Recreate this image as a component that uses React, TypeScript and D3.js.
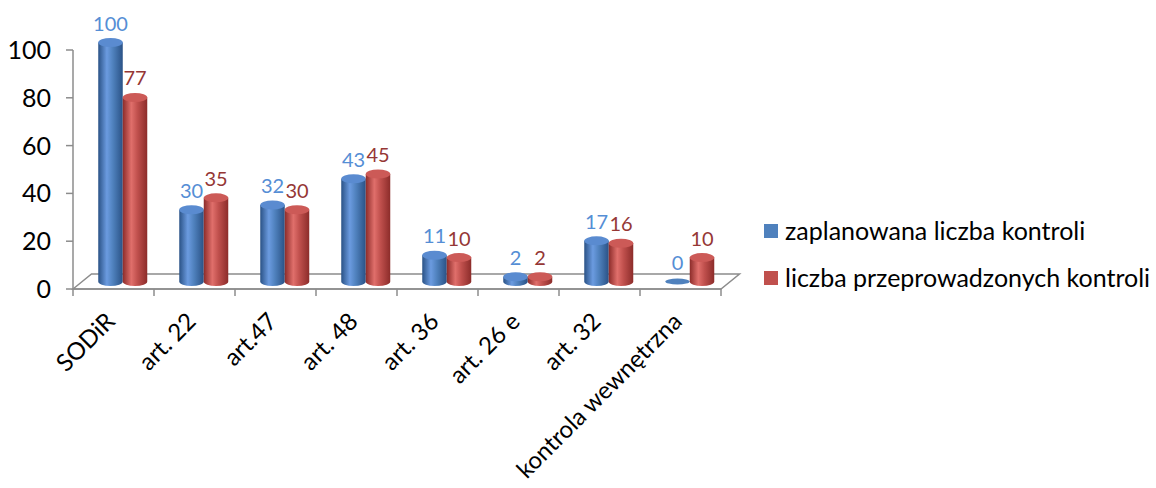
import React from "react";
import * as d3 from "d3";

const categories = ["SODiR", "art. 22", "art.47", "art. 48", "art. 36", "art. 26 e", "art. 32", "kontrola wewnętrzna"];
const planned = [100, 30, 32, 43, 11, 2, 17, 0];
const conducted = [77, 35, 30, 45, 10, 2, 16, 10];
const seriesNames = ["zaplanowana liczba kontroli", "liczba przeprowadzonych kontroli"];
const yTicks = [0, 20, 40, 60, 80, 100];

const W = 1156;
const H = 488;
const FONT = "Lato, 'Open Sans', sans-serif";

// floor front edge and 3D depth offset
const X0 = 73;
const X1 = 721;
const Y0 = 289;
const YTOP = 50;
const DX = 18.5;
const DY = -15;
const CYL_W = 24.5;
const RY = 4.5;

const series = [
  { name: seriesNames[0], values: planned, light: "#6b9be0", mid: "#4f81bd", dark: "#2a5286", top: "#5a8bd0", label: "#558ed5" },
  { name: seriesNames[1], values: conducted, light: "#e06f6b", mid: "#c0504d", dark: "#8c2c2a", top: "#cc5a57", label: "#953735" },
];

export default function App() {
  const x = d3.scaleBand<string>().domain(categories).range([X0, X1]).paddingInner(0).paddingOuter(0);
  const y = d3.scaleLinear().domain([0, 100]).range([Y0, YTOP]);
  const bw = x.bandwidth();

  return (
    <svg width={W} height={H} style={{ display: "block", position: "absolute", left: 0, top: 0 }} fontFamily={FONT}>
      <defs>
        {series.map((s, i) => (
          <linearGradient key={i} id={`cyl${i}`} x1="0" x2="1" y1="0" y2="0">
            <stop offset="0" stopColor={s.dark} />
            <stop offset="0.35" stopColor={s.light} />
            <stop offset="0.6" stopColor={s.mid} />
            <stop offset="1" stopColor={s.dark} />
          </linearGradient>
        ))}
      </defs>

      {/* floor plate */}
      <path
        d={`M${X0},${Y0} L${X0 + DX},${Y0 + DY} L${X1 + DX},${Y0 + DY} L${X1},${Y0} Z`}
        fill="#fff"
        stroke="#8c8c8c"
        strokeWidth={1.5}
      />

      {/* value axis */}
      <line x1={X0} x2={X0} y1={y(100)} y2={Y0} stroke="#8c8c8c" strokeWidth={1.5} />
      {yTicks.map((t) => (
        <g key={t}>
          <line x1={X0 - 7} x2={X0} y1={y(t)} y2={y(t)} stroke="#8c8c8c" strokeWidth={1.5} />
          <text x={51} y={y(t)} dy="0.36em" textAnchor="end" fontSize={25} fill="#000">
            {t}
          </text>
        </g>
      ))}

      {/* category axis */}
      <line x1={X0} x2={X1} y1={Y0} y2={Y0} stroke="#8c8c8c" strokeWidth={1.5} />
      {categories.concat([""]).map((c, i) => {
        const xx = X0 + i * bw;
        return <line key={`t${i}`} x1={xx} x2={xx} y1={Y0} y2={Y0 + 7} stroke="#8c8c8c" strokeWidth={1.5} />;
      })}
      {categories.map((c) => {
        const cx = (x(c) as number) + bw / 2 - 3;
        return (
          <text
            key={c}
            transform={`translate(${cx},${Y0 + 28}) rotate(-45)`}
            textAnchor="end"
            dy="0.35em"
            fontSize={24}
            fill="#000"
          >
            {c}
          </text>
        );
      })}

      {/* cylinders */}
      {categories.map((c, ci) => {
        const center = (x(c) as number) + bw / 2 + DX / 2;
        return series.map((s, si) => {
          const v = s.values[ci];
          const cx = center + (si === 0 ? -CYL_W / 2 : CYL_W / 2);
          const base = y(0) + DY / 2;
          const top = y(v) + DY / 2;
          const rx = CYL_W / 2;
          return (
            <g key={`${c}-${si}`}>
              {v > 0 && (
                <path
                  d={`M${cx - rx},${top} L${cx - rx},${base} A${rx},${RY} 0 0 0 ${cx + rx},${base} L${cx + rx},${top} Z`}
                  fill={`url(#cyl${si})`}
                />
              )}
              <ellipse cx={cx} cy={top} rx={rx} ry={v > 0 ? RY : 3} fill={v > 0 ? s.top : s.mid} />
              <text x={cx} y={top - 12} textAnchor="middle" fontSize={20} fill={s.label}>
                {v}
              </text>
            </g>
          );
        });
      })}

      {/* legend */}
      {series.map((s, i) => (
        <g key={s.name} transform={`translate(764,${224 + i * 47})`}>
          <rect x={0} y={0} width={14} height={14} fill={s.mid} />
          <text x={21} y={7} dy="0.35em" fontSize={25} fill="#000">
            {s.name}
          </text>
        </g>
      ))}
    </svg>
  );
}
